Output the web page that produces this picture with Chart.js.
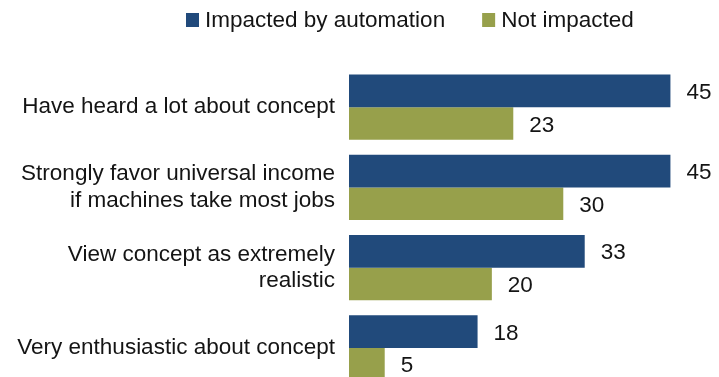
<!DOCTYPE html>
<html>
<head>
<meta charset="utf-8">
<script src="https://cdn.jsdelivr.net/npm/chart.js@4"></script>
<style>
  html, body { margin: 0; padding: 0; background: #fff; overflow: hidden; }
  #wrap { width: 719px; height: 377px; overflow: hidden; }
  #box { position: relative; width: 719px; height: 388px; }
</style>
</head>
<body>
<div id="wrap"><div id="box"><canvas id="chartCanvas"></canvas></div></div>
<script>
const categories = [
    'Have heard a lot about concept',
    ['Strongly favor universal income', 'if machines take most jobs'],
    ['View concept as extremely', 'realistic'],
    'Very enthusiastic about concept'
];
const impacted = [45, 45, 33, 18];
const notImpacted = [23, 30, 20, 5];
const seriesNames = ['Impacted by automation', 'Not impacted'];
const seriesColors = ['#214a7b', '#97a04b'];

const FONT = '"Liberation Sans", Arial, sans-serif';
const FONT_SIZE = 22.5;
const TEXT = '#141414';

// legend row drawn by hand so the spacing can be set freely
const legendRow = {
    id: 'legendRow',
    afterDraw(chart) {
        const ctx = chart.ctx;
        ctx.save();
        ctx.font = FONT_SIZE + 'px ' + FONT;
        ctx.textBaseline = 'middle';
        let x = 186;
        const y = 20;
        chart.data.datasets.forEach(ds => {
            ctx.fillStyle = ds.backgroundColor;
            ctx.fillRect(x, y - 7, 13, 14);
            x += 13 + 6;
            ctx.fillStyle = TEXT;
            ctx.fillText(ds.label, x, y + 1);
            x += ctx.measureText(ds.label).width + 37;
        });
        ctx.restore();
    }
};

// numbers to the right of each bar
const barValues = {
    id: 'barValues',
    afterDatasetsDraw(chart) {
        const ctx = chart.ctx;
        ctx.save();
        ctx.font = FONT_SIZE + 'px ' + FONT;
        ctx.fillStyle = TEXT;
        ctx.textBaseline = 'middle';
        chart.data.datasets.forEach((ds, i) => {
            chart.getDatasetMeta(i).data.forEach((bar, j) => {
                ctx.fillText(ds.data[j], bar.x + 16, bar.y + 2);
            });
        });
        ctx.restore();
    }
};

const ctx = document.getElementById('chartCanvas').getContext('2d');
new Chart(ctx, {
    type: 'bar',
    data: {
        labels: categories,
        datasets: [
            { label: seriesNames[0], data: impacted, backgroundColor: seriesColors[0] },
            { label: seriesNames[1], data: notImpacted, backgroundColor: seriesColors[1] }
        ]
    },
    options: {
        indexAxis: 'y',
        responsive: true,
        maintainAspectRatio: false,
        animation: false,
        layout: { padding: { top: 67, right: 0, bottom: 0, left: 0 } },
        datasets: {
            bar: { categoryPercentage: 0.816, barPercentage: 1.0, borderWidth: 0 }
        },
        scales: {
            x: { display: false, min: 0, max: 51.8 },
            y: {
                grid: { display: false, drawTicks: false },
                border: { display: false },
                ticks: {
                    color: TEXT,
                    padding: 14,
                    font: { family: FONT, size: FONT_SIZE, lineHeight: 1.18 }
                },
                afterFit(scale) {
                    // fixed label column; labels sit inside the bands, so no extra room above/below
                    scale.width = 349;
                    scale.paddingTop = 0;
                    scale.paddingBottom = 0;
                }
            }
        },
        plugins: {
            legend: { display: false },
            tooltip: { enabled: false }
        }
    },
    plugins: [legendRow, barValues]
});
</script>
</body>
</html>
